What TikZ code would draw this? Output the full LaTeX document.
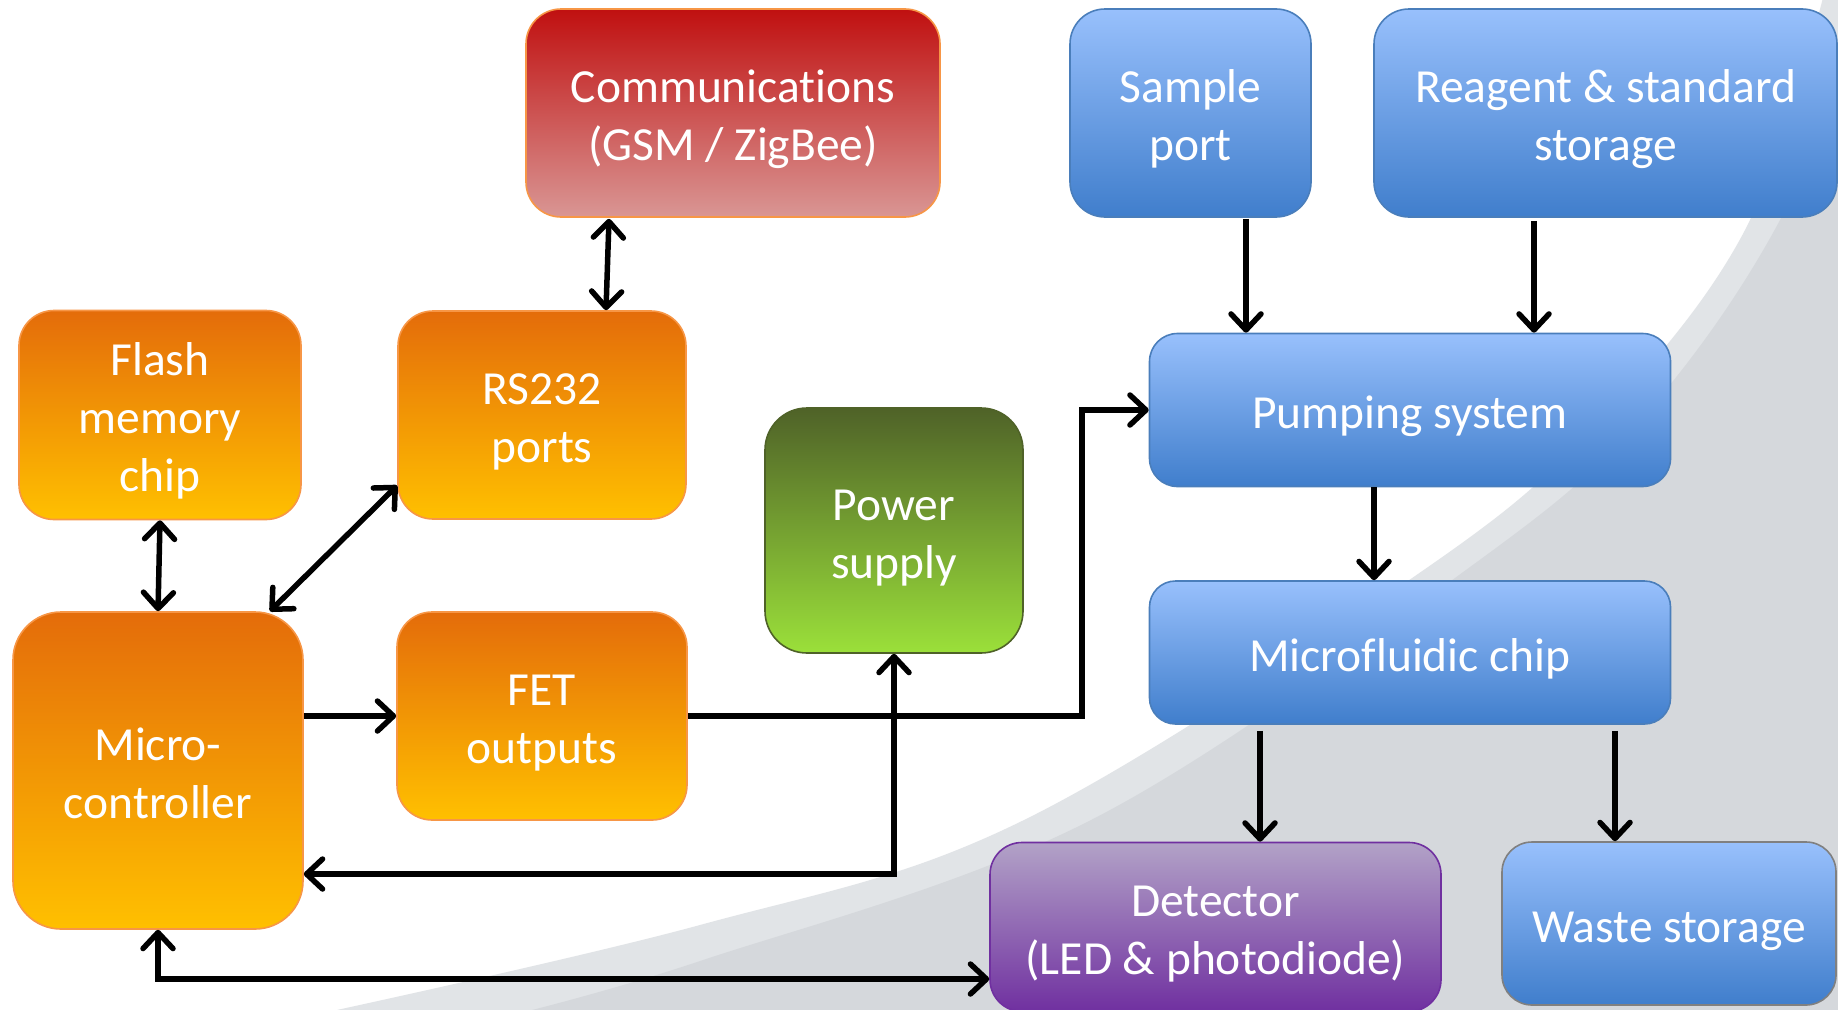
\documentclass[tikz,border=0pt]{standalone}
\usepackage{fontspec}
\setmainfont{Carlito}[Ligatures=NoCommon]
\usetikzlibrary{arrows.meta,calc,shadings}
\definecolor{bglight}{RGB}{225,228,231}
\definecolor{bgdark}{RGB}{213,216,220}
\definecolor{orgtop}{RGB}{228,108,10}
\definecolor{orgbot}{RGB}{255,192,0}
\definecolor{orgline}{RGB}{247,150,70}
\definecolor{redtop}{RGB}{192,16,16}
\definecolor{redbot}{RGB}{217,150,148}
\definecolor{bluetop}{RGB}{152,192,252}
\definecolor{bluebot}{RGB}{64,126,204}
\definecolor{blueline}{RGB}{74,126,187}
\definecolor{greentop}{RGB}{79,98,40}
\definecolor{greenbot}{RGB}{155,224,58}
\definecolor{greenline}{RGB}{79,98,40}
\definecolor{purptop}{RGB}{178,162,199}
\definecolor{purpbot}{RGB}{112,48,160}
\definecolor{purpline}{RGB}{112,48,160}
\definecolor{greyline}{RGB}{128,128,128}
\newcommand{\boxtxt}[1]{\raisebox{-7pt}[\height][\depth]{\begin{tabular}{@{}c@{}}#1\end{tabular}}}
\tikzset{
  box/.style={rectangle, inner sep=0pt, text=white,
    font=\fontsize{47.5}{58}\selectfont, line width=1.6pt},
  orangebox/.style={box, draw=orgline, top color=orgtop, bottom color=orgbot},
  redbox/.style={box, draw=orgline, top color=redtop, bottom color=redbot},
  bluebox/.style={box, draw=blueline, top color=bluetop, bottom color=bluebot},
  greenbox/.style={box, draw=greenline, top color=greentop, bottom color=greenbot},
  purplebox/.style={box, draw=purpline, top color=purptop, bottom color=purpbot},
  conn/.style={line width=5.5pt, line join=miter,
    arrows={-{Straight Barb[length=16pt,width=30pt,round]}}},
  bconn/.style={line width=5.5pt, line join=miter,
    arrows={{Straight Barb[length=16pt,width=30pt,round]}-{Straight Barb[length=16pt,width=30pt,round]}}}
}
\begin{document}
\begin{tikzpicture}[x=1pt,y=-1pt]
\useasboundingbox (0,0) rectangle (1838,1009);
\begin{scope}
\clip (0,0) rectangle (1838,1009);
\fill[white] (0,0) rectangle (1838,1009);
\fill[bglight] plot[smooth,tension=0.6] coordinates {(1825,-10) (1745,230) (1600,420) (1428,567) (1024,820) (700,925) (300,1018)} -- (1850,1030) -- (1850,-10) -- cycle;
\fill[bgdark] plot[smooth,tension=0.6] coordinates {(1870,-10) (1780,220) (1640,420) (1470,567) (1091,820) (700,961) (500,1018)} -- (1850,1030) -- (1880,-10) -- cycle;
\end{scope}

\node[redbox, rounded corners=35pt, minimum width=414pt, minimum height=208pt] (comms) at (733,113) {\boxtxt{Communications\\(GSM / ZigBee)}};
\node[bluebox, rounded corners=35pt, minimum width=241pt, minimum height=208pt] (sample) at (1190.5,113) {\boxtxt{Sample\\port}};
\node[bluebox, rounded corners=35pt, minimum width=463pt, minimum height=208pt] (reag) at (1605.5,113) {\boxtxt{Reagent \& standard\\storage}};
\node[orangebox, rounded corners=35pt, minimum width=282pt, minimum height=209pt] (flash) at (160,415) {\boxtxt{Flash\\memory\\chip}};
\node[orangebox, rounded corners=35pt, minimum width=288pt, minimum height=208pt] (rs) at (542,415) {\boxtxt{RS232\\ports}};
\node[greenbox, rounded corners=42pt, minimum width=258pt, minimum height=245pt] (power) at (894,530.5) {\boxtxt{Power\\supply}};
\node[bluebox, rounded corners=28pt, minimum width=521pt, minimum height=153pt] (pump) at (1410,410) {\boxtxt{Pumping system}};
\node[bluebox, rounded corners=26pt, minimum width=521pt, minimum height=143pt] (mf) at (1410,652.5) {\boxtxt{Microfluidic chip}};
\node[orangebox, rounded corners=48pt, minimum width=290pt, minimum height=317pt] (micro) at (158,770.5) {\boxtxt{Micro-\\controller}};
\node[orangebox, rounded corners=35pt, minimum width=290pt, minimum height=208pt] (fet) at (542,716) {\boxtxt{FET\\outputs}};
\node[purplebox, rounded corners=32pt, minimum width=451pt, minimum height=169pt] (det) at (1215.5,927) {\boxtxt{Detector\\(LED \& photodiode)}};
\node[bluebox, draw=greyline, rounded corners=30pt, minimum width=334pt, minimum height=163pt] (waste) at (1669,923.5) {\boxtxt{Waste storage}};

\coordinate (j1) at (0,979);
\coordinate (j2) at (0,874);
\coordinate (j3) at (1082,0);

\draw[bconn] ($(comms.south)+(-124,1)$) -- ($(rs.north)+(64,0)$);
\draw[bconn] (flash.south) -- (micro.north);
\draw[bconn] ($(rs.west)+(0,70.5)$) -- ($(micro.north)+(112,0)$);
\draw[conn] (micro.east |- fet.west) -- (fet.west);
\draw[conn] (fet.east) -- (fet.east -| j3) |- (pump.west);
\draw[bconn] (power.south) -- (power.south |- j2) -- (micro.east |- j2);
\draw[bconn] (micro.south) -- (micro.south |- j1) -- (det.west |- j1);
\draw[conn] ($(sample.south)+(55.5,1)$) -- ($(pump.north)+(-164,0)$);
\draw[conn] ($(reag.south)+(-71.5,3)$) -- ($(pump.north)+(124,0)$);
\draw[conn] ($(pump.south)+(-36,0)$) -- ($(mf.north)+(-36,0)$);
\draw[conn] ($(mf.south)+(-150,6)$) -- ($(det.north)+(44.5,0)$);
\draw[conn] ($(mf.south)+(205,6)$) -- ($(waste.north)+(-54,0)$);
\end{tikzpicture}
\end{document}
